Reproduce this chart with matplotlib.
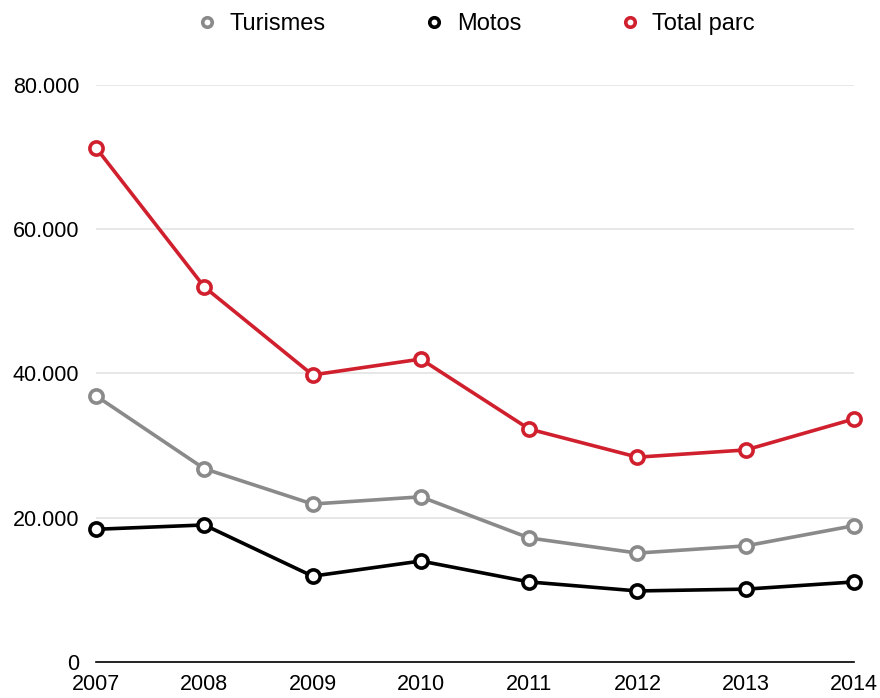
import matplotlib
matplotlib.use("Agg")
import matplotlib.pyplot as plt
from matplotlib.ticker import FuncFormatter

plt.rcParams['font.family'] = ['Liberation Sans', 'DejaVu Sans']

years = [2007, 2008, 2009, 2010, 2011, 2012, 2013, 2014]
turismes = [36900, 26800, 21900, 22900, 17200, 15100, 16100, 18900]
motos = [18400, 19000, 11900, 14000, 11100, 9850, 10100, 11100]
total = [71300, 52000, 39800, 42000, 32300, 28400, 29400, 33700]
yticks = [0, 20000, 40000, 60000, 80000]

fig = plt.figure(figsize=(8.8, 6.98), dpi=100)
ax = fig.add_axes([0.1091, 0.0516, 0.8614, 0.8266])

series = [("Turismes", turismes, "#8a8a8a"),
          ("Motos", motos, "#000000"),
          ("Total parc", total, "#d0202e")]
for name, vals, col in series:
    ax.plot(years, vals, color=col, lw=2.6, marker='o', ms=9.5,
            mfc='white', mec=col, mew=2.6, label=name, clip_on=False, zorder=3)

ax.set_xlim(2007, 2014)
ax.set_ylim(0, 80000)
ax.set_yticks(yticks)
ax.set_xticks(years)
ax.yaxis.set_major_formatter(FuncFormatter(lambda v, p: f"{int(v):,}".replace(",", ".")))
ax.grid(axis='y', color='#e3e3e3', lw=1.2)
ax.set_axisbelow(True)
for s in ['top', 'right', 'left']:
    ax.spines[s].set_visible(False)
ax.spines['bottom'].set_color('black')
ax.spines['bottom'].set_linewidth(1.2)
ax.tick_params(axis='both', length=0, labelsize=15.5)
ax.tick_params(axis='y', pad=12)
ax.tick_params(axis='x', pad=9)

fig.legend(loc='upper center', bbox_to_anchor=(0.54, 1.012), ncol=3, frameon=False,
           fontsize=17, markerscale=0.72, handlelength=1.0, columnspacing=4.1,
           handletextpad=0.45)
for line in fig.legends[0].get_lines():
    line.set_linestyle('None')

fig.savefig("out.png", dpi=100)
